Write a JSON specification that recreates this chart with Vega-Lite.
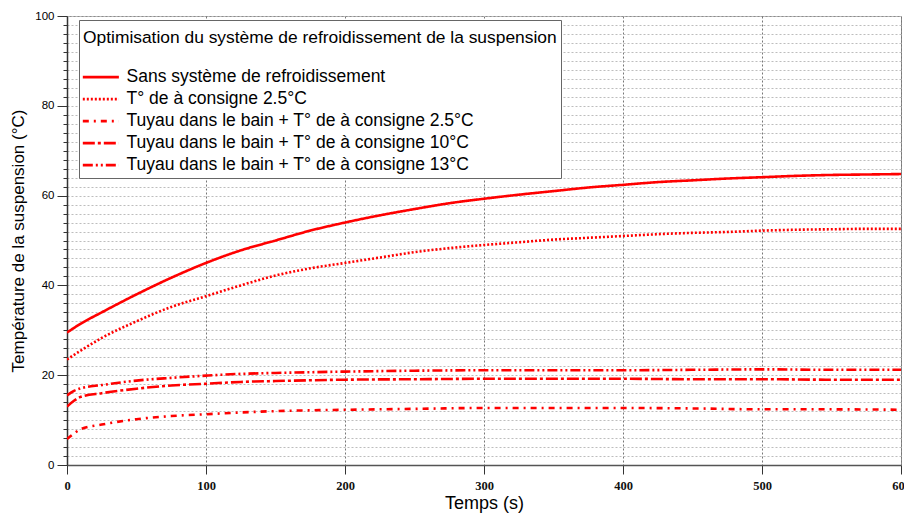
{
  "$schema": "https://vega.github.io/schema/vega-lite/v6.json",
  "width": 834,
  "height": 449,
  "autosize": {"type": "none"},
  "padding": {"left": 67, "top": 16, "right": 3, "bottom": 51},
  "background": "white",
  "config": {
    "font": "Liberation Sans",
    "view": {"stroke": "#8c8c8c", "strokeWidth": 1}
  },
  "data": {
    "values": [
      {"t": 0, "T": 29.5, "serie": "Sans système de refroidissement"},
      {"t": 10, "T": 31.5, "serie": "Sans système de refroidissement"},
      {"t": 25, "T": 34.0, "serie": "Sans système de refroidissement"},
      {"t": 50, "T": 38.0, "serie": "Sans système de refroidissement"},
      {"t": 75, "T": 41.7, "serie": "Sans système de refroidissement"},
      {"t": 100, "T": 45.0, "serie": "Sans système de refroidissement"},
      {"t": 125, "T": 47.8, "serie": "Sans système de refroidissement"},
      {"t": 150, "T": 50.0, "serie": "Sans système de refroidissement"},
      {"t": 175, "T": 52.2, "serie": "Sans système de refroidissement"},
      {"t": 200, "T": 54.0, "serie": "Sans système de refroidissement"},
      {"t": 225, "T": 55.6, "serie": "Sans système de refroidissement"},
      {"t": 250, "T": 57.0, "serie": "Sans système de refroidissement"},
      {"t": 275, "T": 58.3, "serie": "Sans système de refroidissement"},
      {"t": 300, "T": 59.3, "serie": "Sans système de refroidissement"},
      {"t": 325, "T": 60.2, "serie": "Sans système de refroidissement"},
      {"t": 350, "T": 61.0, "serie": "Sans système de refroidissement"},
      {"t": 375, "T": 61.8, "serie": "Sans système de refroidissement"},
      {"t": 400, "T": 62.4, "serie": "Sans système de refroidissement"},
      {"t": 425, "T": 63.0, "serie": "Sans système de refroidissement"},
      {"t": 450, "T": 63.4, "serie": "Sans système de refroidissement"},
      {"t": 475, "T": 63.8, "serie": "Sans système de refroidissement"},
      {"t": 500, "T": 64.1, "serie": "Sans système de refroidissement"},
      {"t": 525, "T": 64.4, "serie": "Sans système de refroidissement"},
      {"t": 550, "T": 64.6, "serie": "Sans système de refroidissement"},
      {"t": 575, "T": 64.7, "serie": "Sans système de refroidissement"},
      {"t": 600, "T": 64.8, "serie": "Sans système de refroidissement"},

      {"t": 0, "T": 23.5, "serie": "T° de à consigne 2.5°C"},
      {"t": 10, "T": 25.5, "serie": "T° de à consigne 2.5°C"},
      {"t": 25, "T": 28.3, "serie": "T° de à consigne 2.5°C"},
      {"t": 50, "T": 32.0, "serie": "T° de à consigne 2.5°C"},
      {"t": 75, "T": 35.2, "serie": "T° de à consigne 2.5°C"},
      {"t": 100, "T": 37.6, "serie": "T° de à consigne 2.5°C"},
      {"t": 125, "T": 40.0, "serie": "T° de à consigne 2.5°C"},
      {"t": 150, "T": 42.2, "serie": "T° de à consigne 2.5°C"},
      {"t": 175, "T": 43.8, "serie": "T° de à consigne 2.5°C"},
      {"t": 200, "T": 45.0, "serie": "T° de à consigne 2.5°C"},
      {"t": 225, "T": 46.2, "serie": "T° de à consigne 2.5°C"},
      {"t": 250, "T": 47.4, "serie": "T° de à consigne 2.5°C"},
      {"t": 275, "T": 48.3, "serie": "T° de à consigne 2.5°C"},
      {"t": 300, "T": 49.0, "serie": "T° de à consigne 2.5°C"},
      {"t": 325, "T": 49.6, "serie": "T° de à consigne 2.5°C"},
      {"t": 350, "T": 50.2, "serie": "T° de à consigne 2.5°C"},
      {"t": 375, "T": 50.6, "serie": "T° de à consigne 2.5°C"},
      {"t": 400, "T": 51.0, "serie": "T° de à consigne 2.5°C"},
      {"t": 425, "T": 51.4, "serie": "T° de à consigne 2.5°C"},
      {"t": 450, "T": 51.7, "serie": "T° de à consigne 2.5°C"},
      {"t": 475, "T": 51.9, "serie": "T° de à consigne 2.5°C"},
      {"t": 500, "T": 52.2, "serie": "T° de à consigne 2.5°C"},
      {"t": 525, "T": 52.4, "serie": "T° de à consigne 2.5°C"},
      {"t": 550, "T": 52.5, "serie": "T° de à consigne 2.5°C"},
      {"t": 575, "T": 52.6, "serie": "T° de à consigne 2.5°C"},
      {"t": 600, "T": 52.6, "serie": "T° de à consigne 2.5°C"},

      {"t": 0, "T": 5.8, "serie": "Tuyau dans le bain + T° de à consigne 2.5°C"},
      {"t": 5, "T": 7.0, "serie": "Tuyau dans le bain + T° de à consigne 2.5°C"},
      {"t": 10, "T": 8.0, "serie": "Tuyau dans le bain + T° de à consigne 2.5°C"},
      {"t": 25, "T": 9.0, "serie": "Tuyau dans le bain + T° de à consigne 2.5°C"},
      {"t": 50, "T": 10.2, "serie": "Tuyau dans le bain + T° de à consigne 2.5°C"},
      {"t": 75, "T": 10.9, "serie": "Tuyau dans le bain + T° de à consigne 2.5°C"},
      {"t": 100, "T": 11.3, "serie": "Tuyau dans le bain + T° de à consigne 2.5°C"},
      {"t": 125, "T": 11.7, "serie": "Tuyau dans le bain + T° de à consigne 2.5°C"},
      {"t": 150, "T": 12.0, "serie": "Tuyau dans le bain + T° de à consigne 2.5°C"},
      {"t": 200, "T": 12.3, "serie": "Tuyau dans le bain + T° de à consigne 2.5°C"},
      {"t": 250, "T": 12.5, "serie": "Tuyau dans le bain + T° de à consigne 2.5°C"},
      {"t": 300, "T": 12.7, "serie": "Tuyau dans le bain + T° de à consigne 2.5°C"},
      {"t": 350, "T": 12.7, "serie": "Tuyau dans le bain + T° de à consigne 2.5°C"},
      {"t": 400, "T": 12.7, "serie": "Tuyau dans le bain + T° de à consigne 2.5°C"},
      {"t": 450, "T": 12.6, "serie": "Tuyau dans le bain + T° de à consigne 2.5°C"},
      {"t": 500, "T": 12.4, "serie": "Tuyau dans le bain + T° de à consigne 2.5°C"},
      {"t": 550, "T": 12.4, "serie": "Tuyau dans le bain + T° de à consigne 2.5°C"},
      {"t": 600, "T": 12.3, "serie": "Tuyau dans le bain + T° de à consigne 2.5°C"},

      {"t": 0, "T": 13.0, "serie": "Tuyau dans le bain + T° de à consigne 10°C"},
      {"t": 5, "T": 14.3, "serie": "Tuyau dans le bain + T° de à consigne 10°C"},
      {"t": 10, "T": 15.2, "serie": "Tuyau dans le bain + T° de à consigne 10°C"},
      {"t": 25, "T": 16.0, "serie": "Tuyau dans le bain + T° de à consigne 10°C"},
      {"t": 50, "T": 17.0, "serie": "Tuyau dans le bain + T° de à consigne 10°C"},
      {"t": 75, "T": 17.7, "serie": "Tuyau dans le bain + T° de à consigne 10°C"},
      {"t": 100, "T": 18.1, "serie": "Tuyau dans le bain + T° de à consigne 10°C"},
      {"t": 125, "T": 18.5, "serie": "Tuyau dans le bain + T° de à consigne 10°C"},
      {"t": 150, "T": 18.7, "serie": "Tuyau dans le bain + T° de à consigne 10°C"},
      {"t": 200, "T": 19.0, "serie": "Tuyau dans le bain + T° de à consigne 10°C"},
      {"t": 250, "T": 19.1, "serie": "Tuyau dans le bain + T° de à consigne 10°C"},
      {"t": 300, "T": 19.2, "serie": "Tuyau dans le bain + T° de à consigne 10°C"},
      {"t": 350, "T": 19.2, "serie": "Tuyau dans le bain + T° de à consigne 10°C"},
      {"t": 400, "T": 19.2, "serie": "Tuyau dans le bain + T° de à consigne 10°C"},
      {"t": 450, "T": 19.1, "serie": "Tuyau dans le bain + T° de à consigne 10°C"},
      {"t": 500, "T": 19.1, "serie": "Tuyau dans le bain + T° de à consigne 10°C"},
      {"t": 550, "T": 19.0, "serie": "Tuyau dans le bain + T° de à consigne 10°C"},
      {"t": 600, "T": 19.0, "serie": "Tuyau dans le bain + T° de à consigne 10°C"},

      {"t": 0, "T": 15.5, "serie": "Tuyau dans le bain + T° de à consigne 13°C"},
      {"t": 5, "T": 16.5, "serie": "Tuyau dans le bain + T° de à consigne 13°C"},
      {"t": 10, "T": 17.1, "serie": "Tuyau dans le bain + T° de à consigne 13°C"},
      {"t": 25, "T": 17.8, "serie": "Tuyau dans le bain + T° de à consigne 13°C"},
      {"t": 50, "T": 18.8, "serie": "Tuyau dans le bain + T° de à consigne 13°C"},
      {"t": 75, "T": 19.4, "serie": "Tuyau dans le bain + T° de à consigne 13°C"},
      {"t": 100, "T": 19.9, "serie": "Tuyau dans le bain + T° de à consigne 13°C"},
      {"t": 125, "T": 20.3, "serie": "Tuyau dans le bain + T° de à consigne 13°C"},
      {"t": 150, "T": 20.5, "serie": "Tuyau dans le bain + T° de à consigne 13°C"},
      {"t": 200, "T": 20.8, "serie": "Tuyau dans le bain + T° de à consigne 13°C"},
      {"t": 250, "T": 21.0, "serie": "Tuyau dans le bain + T° de à consigne 13°C"},
      {"t": 300, "T": 21.1, "serie": "Tuyau dans le bain + T° de à consigne 13°C"},
      {"t": 350, "T": 21.1, "serie": "Tuyau dans le bain + T° de à consigne 13°C"},
      {"t": 400, "T": 21.1, "serie": "Tuyau dans le bain + T° de à consigne 13°C"},
      {"t": 450, "T": 21.2, "serie": "Tuyau dans le bain + T° de à consigne 13°C"},
      {"t": 500, "T": 21.3, "serie": "Tuyau dans le bain + T° de à consigne 13°C"},
      {"t": 550, "T": 21.2, "serie": "Tuyau dans le bain + T° de à consigne 13°C"},
      {"t": 600, "T": 21.2, "serie": "Tuyau dans le bain + T° de à consigne 13°C"}
    ]
  },
  "mark": {"type": "line", "color": "#ff0000", "strokeWidth": 2.6, "interpolate": "monotone", "clip": true},
  "encoding": {
    "x": {
      "field": "t",
      "type": "quantitative",
      "scale": {"domain": [0, 600], "nice": false, "zero": false},
      "axis": {
        "title": "Temps (s)",
        "titleFontSize": 18,
        "titleFontWeight": "normal",
        "titleColor": "#000",
        "titlePadding": 3,
        "values": [0, 100, 200, 300, 400, 500, 600],
        "labelFont": "Liberation Sans Narrow",
        "labelFontSize": 12.5,
        "labelFontWeight": "bold",
        "labelColor": "#111",
        "labelPadding": 5,
        "tickSize": 9,
        "tickColor": "#333",
        "domainColor": "#555",
        "domainWidth": 1.5,
        "grid": true,
        "gridColor": "#777",
        "gridDash": [2, 2],
        "gridWidth": 1,
        "labelFlush": false,
        "labelOverlap": false
      }
    },
    "y": {
      "field": "T",
      "type": "quantitative",
      "scale": {"domain": [0, 100], "nice": false},
      "axis": {
        "title": "Température de la suspension (°C)",
        "titleFontSize": 17,
        "titleFontWeight": "normal",
        "titleColor": "#000",
        "titlePadding": 7,
        "values": [0, 2, 4, 6, 8, 10, 12, 14, 16, 18, 20, 22, 24, 26, 28, 30, 32, 34, 36, 38, 40, 42, 44, 46, 48, 50, 52, 54, 56, 58, 60, 62, 64, 66, 68, 70, 72, 74, 76, 78, 80, 82, 84, 86, 88, 90, 92, 94, 96, 98, 100],
        "labelExpr": "datum.value % 20 === 0 ? datum.label : ''",
        "labelFontSize": 11.5,
        "labelFontWeight": "normal",
        "labelColor": "#000",
        "labelPadding": 3,
        "labelOverlap": false,
        "labelFlush": false,
        "tickSize": {"condition": {"test": "datum.value % 20 === 0", "value": 10}, "value": 4},
        "tickColor": "#333",
        "domainColor": "#333",
        "domainWidth": 1.5,
        "grid": true,
        "gridColor": "#bdbdbd",
        "gridDash": [2, 2],
        "gridWidth": 1
      }
    },
    "strokeDash": {
      "field": "serie",
      "type": "nominal",
      "scale": {
        "domain": [
          "Sans système de refroidissement",
          "T° de à consigne 2.5°C",
          "Tuyau dans le bain + T° de à consigne 2.5°C",
          "Tuyau dans le bain + T° de à consigne 10°C",
          "Tuyau dans le bain + T° de à consigne 13°C"
        ],
        "range": [[1, 0], [2, 2], [6, 5, 2, 5], [12, 3, 3, 3], [10, 3, 2, 3, 2, 3]]
      },
      "legend": {
        "orient": "none",
        "legendX": 12,
        "legendY": 4,
        "title": "Optimisation du système de refroidissement de la suspension",
        "titleFontSize": 17.4,
        "titleFontWeight": "normal",
        "titleColor": "#000",
        "titleLimit": 700,
        "titlePadding": 27,
        "titleBaseline": "line-top",
        "titleLineHeight": 27,
        "labelFontSize": 17.5,
        "labelColor": "#000",
        "labelLimit": 700,
        "labelOffset": 26,
        "rowPadding": 3,
        "symbolType": "M-2.9,0H8.8",
        "symbolSize": 38,
        "symbolStrokeWidth": 2.6,
        "symbolStrokeColor": "#ff0000",
        "padding": 4,
        "strokeColor": "#666",
        "fillColor": "#ffffff"
      }
    }
  }
}
